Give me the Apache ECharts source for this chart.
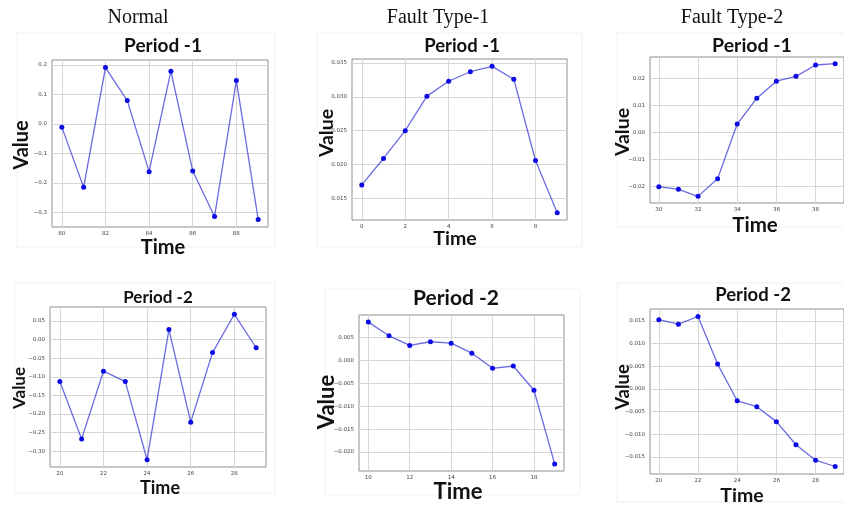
<!DOCTYPE html>
<html><head><meta charset="utf-8">
<script src="https://cdn.jsdelivr.net/npm/echarts@6/dist/echarts.min.js"></script>
<style>html,body{margin:0;padding:0;background:#fff}#c{width:844px;height:506px}</style>
</head><body><div id="c"></div>
<script>
// ---------- data ----------
const columnHeaders = ['Normal', 'Fault Type-1', 'Fault Type-2'];
const panelTitles = ['Period -1', 'Period -1', 'Period -1', 'Period -2', 'Period -2', 'Period -2'];
const xAxisName = 'Time';
const yAxisName = 'Value';

const normalP1Time = [80, 81, 82, 83, 84, 85, 86, 87, 88, 89];
const normalP1Value = [-0.011, -0.215, 0.191, 0.079, -0.162, 0.179, -0.160, -0.314, 0.147, -0.324];
const normalP1XTicks = [80, 82, 84, 86, 88];
const normalP1YTicks = [-0.3, -0.2, -0.1, 0.0, 0.1, 0.2];

const fault1P1Time = [0, 1, 2, 3, 4, 5, 6, 7, 8, 9];
const fault1P1Value = [0.0170, 0.0209, 0.0250, 0.0301, 0.0323, 0.0337, 0.0345, 0.0326, 0.0206, 0.0129];
const fault1P1XTicks = [0, 2, 4, 6, 8];
const fault1P1YTicks = [0.015, 0.020, 0.025, 0.030, 0.035];

const fault2P1Time = [30, 31, 32, 33, 34, 35, 36, 37, 38, 39];
const fault2P1Value = [-0.0202, -0.0212, -0.0238, -0.0173, 0.0030, 0.0126, 0.0189, 0.0207, 0.0249, 0.0254];
const fault2P1XTicks = [30, 32, 34, 36, 38];
const fault2P1YTicks = [-0.02, -0.01, 0.00, 0.01, 0.02];

const normalP2Time = [20, 21, 22, 23, 24, 25, 26, 27, 28, 29];
const normalP2Value = [-0.113, -0.267, -0.085, -0.113, -0.323, 0.027, -0.222, -0.035, 0.068, -0.022];
const normalP2XTicks = [20, 22, 24, 26, 28];
const normalP2YTicks = [-0.30, -0.25, -0.20, -0.15, -0.10, -0.05, 0.00, 0.05];

const fault1P2Time = [10, 11, 12, 13, 14, 15, 16, 17, 18, 19];
const fault1P2Value = [0.0084, 0.0054, 0.0033, 0.0041, 0.0038, 0.0016, -0.0017, -0.0012, -0.0065, -0.0226];
const fault1P2XTicks = [10, 12, 14, 16, 18];
const fault1P2YTicks = [-0.020, -0.015, -0.010, -0.005, 0.000, 0.005];

const fault2P2Time = [20, 21, 22, 23, 24, 25, 26, 27, 28, 29];
const fault2P2Value = [0.0153, 0.0143, 0.0160, 0.0055, -0.0026, -0.0039, -0.0072, -0.0123, -0.0157, -0.0171];
const fault2P2XTicks = [20, 22, 24, 26, 28];
const fault2P2YTicks = [-0.015, -0.010, -0.005, 0.000, 0.005, 0.010, 0.015];

const yDecimals = [1, 3, 2, 2, 3, 3];

// ---------- layout ----------
const panels = [
  { t: normalP1Time, v: normalP1Value, xt: normalP1XTicks, yt: normalP1YTicks,
    grid: [52, 60, 216, 167], title: [163, 46, 19], time: [163, 248, 20], value: [22, 145, 20], frame: [17, 33, 258, 214] },
  { t: fault1P1Time, v: fault1P1Value, xt: fault1P1XTicks, yt: fault1P1YTicks,
    grid: [352, 59, 215, 161], title: [462, 46, 18.5], time: [455, 239, 19.5], value: [327, 133, 19.5], frame: [317, 33, 265, 214] },
  { t: fault2P1Time, v: fault2P1Value, xt: fault2P1XTicks, yt: fault2P1YTicks,
    grid: [650, 57, 204, 146], title: [752, 46, 19.5], time: [755, 225, 20.5], value: [623, 132, 19.5], frame: [617, 33, 240, 194] },
  { t: normalP2Time, v: normalP2Value, xt: normalP2XTicks, yt: normalP2YTicks,
    grid: [50, 307, 216, 160], title: [158, 298, 17], time: [160, 488, 18], value: [20, 388, 17], frame: [15, 283, 260, 210] },
  { t: fault1P2Time, v: fault1P2Value, xt: fault1P2XTicks, yt: fault1P2YTicks,
    grid: [359, 315, 205, 156], title: [456, 298, 21], time: [458, 492, 22], value: [327, 402, 22], frame: [325, 289, 255, 206] },
  { t: fault2P2Time, v: fault2P2Value, xt: fault2P2XTicks, yt: fault2P2YTicks,
    grid: [650, 309, 205, 165], title: [753, 295, 18.5], time: [742, 496, 19.5], value: [623, 387, 18.5], frame: [617, 283, 240, 219] }
];

const fmt = d => v => (Math.abs(v) < 1e-12 ? 0 : v).toFixed(d).replace('-', '\u2212');
const padMin = e => e.min - 0.05 * (e.max - e.min);
const padMax = e => e.max + 0.05 * (e.max - e.min);
const BOLD = 'Lato, "Open Sans", sans-serif';

const grid = [], xAxis = [], yAxis = [], series = [], graphic = [];

panels.forEach((p, i) => {
  graphic.push({ type: 'rect', silent: true, z: -1,
    shape: { x: p.frame[0], y: p.frame[1], width: p.frame[2], height: p.frame[3] },
    style: { fill: 'none', stroke: '#f0f0f0', lineWidth: 1 } });
  grid.push({ left: p.grid[0], top: p.grid[1], width: p.grid[2], height: p.grid[3],
    show: true, borderColor: '#8f8f8f', borderWidth: 1, backgroundColor: '#fff', containLabel: false });
  const axisCommon = {
    gridIndex: i, type: 'value', min: padMin, max: padMax,
    axisLine: { show: false },
    splitLine: { show: true, lineStyle: { color: '#d6d6d6', width: 1 } }
  };
  xAxis.push(Object.assign({}, axisCommon, {
    axisTick: { show: false, customValues: p.xt },
    axisLabel: { customValues: p.xt, formatter: fmt(0), fontSize: 5.5, color: '#444', margin: 4, fontFamily: 'DejaVu Sans' }
  }));
  yAxis.push(Object.assign({}, axisCommon, {
    axisTick: { show: false, customValues: p.yt },
    axisLabel: { customValues: p.yt, formatter: fmt(yDecimals[i]), fontSize: 5.5, color: '#444', margin: 5, fontFamily: 'DejaVu Sans' }
  }));
  series.push({
    type: 'line', xAxisIndex: i, yAxisIndex: i,
    data: p.t.map((t, k) => [t, p.v[k]]),
    symbol: 'circle', symbolSize: 5, showSymbol: true,
    lineStyle: { color: 'rgba(50,50,210,0.72)', width: 1.3 },
    itemStyle: { color: '#0a0ae6' },
    animation: false, clip: true
  });
  graphic.push({ type: 'text', x: p.title[0], y: p.title[1], style: {
    text: panelTitles[i], font: 'bold ' + p.title[2] + 'px ' + BOLD, fill: '#111', textAlign: 'center', textVerticalAlign: 'middle' } });
  graphic.push({ type: 'text', x: p.time[0], y: p.time[1], style: {
    text: xAxisName, font: 'bold ' + p.time[2] + 'px ' + BOLD, fill: '#111', textAlign: 'center', textVerticalAlign: 'middle' } });
  graphic.push({ type: 'text', x: p.value[0], y: p.value[1], rotation: Math.PI / 2, style: {
    text: yAxisName, font: 'bold ' + p.value[2] + 'px ' + BOLD, fill: '#111', textAlign: 'center', textVerticalAlign: 'middle' } });
});

const headerX = [138, 438, 732];
columnHeaders.forEach((h, i) => {
  graphic.push({ type: 'text', x: headerX[i], y: 18, style: {
    text: h, font: '20px "Liberation Serif", serif', fill: '#111', textAlign: 'center', textVerticalAlign: 'middle' } });
});

const chart = echarts.init(document.getElementById('c'), null, { renderer: 'canvas' });
chart.setOption({ animation: false, backgroundColor: '#fff', grid, xAxis, yAxis, series, graphic });
</script>
</body></html>
